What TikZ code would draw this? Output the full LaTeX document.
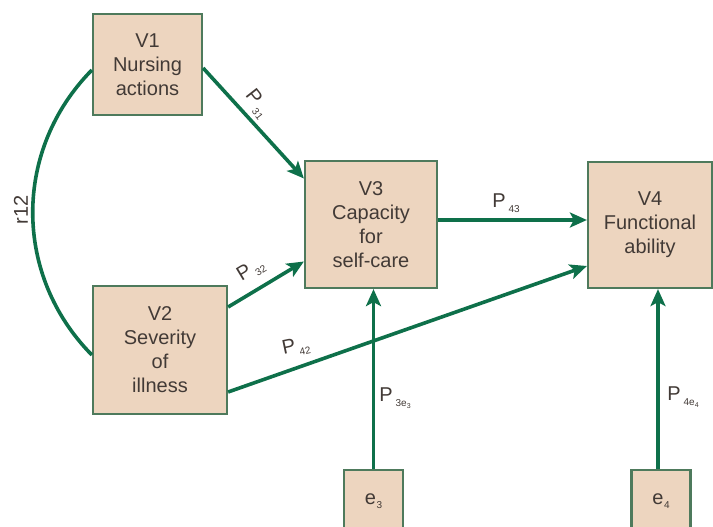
\documentclass[tikz,border=0pt]{standalone}
\usepackage{fontspec}
\setmainfont{Liberation Sans}
\usepackage{xcolor}
\usetikzlibrary{positioning, arrows.meta}

\definecolor{boxfill}{RGB}{237,213,191}
\definecolor{boxline}{RGB}{78,122,92}
\definecolor{arrgreen}{RGB}{14,112,74}
\definecolor{txt}{RGB}{66,58,54}

% path coefficient with a small lowered index
\newcommand{\coef}[3][3pt]{#2\hspace{#1}\raisebox{-4.5pt}{\fontsize{10}{10}\selectfont #3}}

\begin{document}
\begin{tikzpicture}[x=1pt, y=-1pt,
    main/.style = {draw=boxline, line width=2.2pt, fill=boxfill, inner sep=0pt, align=center,
                   text=txt, font=\fontsize{20}{24}\selectfont},
    err/.style = {main, minimum width=59pt, minimum height=62pt},
    arr/.style = {draw=arrgreen, line width=3.6pt, -{Stealth[length=17pt, width=15pt, inset=4pt]}},
    lbl/.style = {text=txt, font=\fontsize{20}{20}\selectfont, inner sep=0pt}]
    \useasboundingbox (0,0) rectangle (713,527);

    % boxes
    \node[main, minimum width=109pt, minimum height=101pt] (v1) at (147.5,64.5) {V1\\Nursing\\actions};
    \node[main, minimum width=134pt, minimum height=128pt] (v2) at (160,350) {V2\\Severity\\of\\illness};
    \node[main, minimum width=132pt, minimum height=127pt] (v3) at (371,224.5) {V3\\Capacity\\for\\self-care};
    \node[main, minimum width=124pt, minimum height=126pt] (v4) at (650,225) {V4\\Functional\\ability};
    \node[err] (e3) at (373.5,501) {\coef[0.5pt]{e}{3}};
    \node[err] (e4) at (661,501) {\coef[0.5pt]{e}{4}};

    % correlation between V1 and V2
    \draw[arrgreen, line width=3.6pt] ([yshift=-5.5pt]v1.west) .. controls (13,150) and (13,275) .. ([yshift=-5pt]v2.west);
    \node[lbl, rotate=90] (r12) at (21,210) {r12};

    % paths
    \draw[arr] ([yshift=-3.5pt]v1.east) -- ([yshift=46pt]v3.west);
    \draw[arr] ([yshift=43pt]v2.east) -- ([yshift=-37pt]v3.west);
    \draw[arr] ([yshift=-42pt]v2.east) -- ([yshift=-41pt]v4.west);
    \draw[arr] ([yshift=4.5pt]v3.east) -- ([yshift=5pt]v4.west);
    \draw[arr] (e3.north) -- (e3.north |- v3.south);
    \draw[arr] ([xshift=-3pt]e4.north) -- ([xshift=-3pt]e4.north |- v4.south);

    % path labels
    \node[lbl, rotate=-52] (p31) at (257,104) {\coef{P}{31}};
    \node[lbl, rotate=31] (p32) at (251,270) {\coef{P}{32}};
    \node[lbl, rotate=12] (p42) at (296,347) {\coef{P}{42}};
    \node[lbl] (p43) at (506,203) {\coef{P}{43}};
    \node[lbl] (p3e3) at (395,398) {\coef{P}{3e\raisebox{-2pt}{\fontsize{7}{7}\selectfont 3}}};
    \node[lbl] (p4e4) at (683,397) {\coef{P}{4e\raisebox{-2pt}{\fontsize{7}{7}\selectfont 4}}};
\end{tikzpicture}
\end{document}
